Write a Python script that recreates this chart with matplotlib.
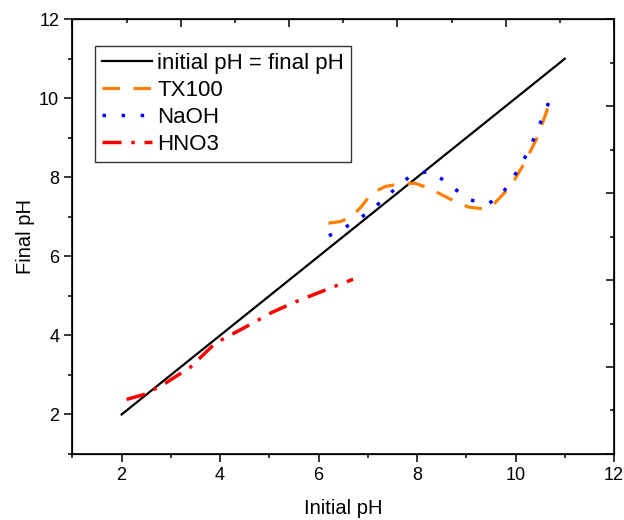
import matplotlib
matplotlib.use("Agg")
import matplotlib.pyplot as plt
from matplotlib.ticker import MultipleLocator

plt.rcParams['font.family'] = ['Liberation Sans', 'DejaVu Sans']

# ========== DATA ==========
ref_x = [2, 11]
ref_y = [2, 11]

tx100_x = [6.2, 6.44, 6.67, 6.87, 7.08, 7.36, 7.69, 7.96, 8.23, 8.5, 8.77, 9.04,
           9.34, 9.58, 9.8, 9.98, 10.18, 10.45, 10.72]
tx100_y = [6.84, 6.88, 7.0, 7.26, 7.6, 7.77, 7.84, 7.85, 7.73, 7.56, 7.39, 7.25,
           7.2, 7.35, 7.64, 7.94, 8.36, 9.03, 9.98]

naoh_x = [6.21, 6.55, 6.85, 7.12, 7.37, 7.62, 7.89, 8.23, 8.5, 8.77, 9.07, 9.44,
          9.68, 9.88, 10.1, 10.28, 10.42, 10.55, 10.69]
naoh_y = [6.52, 6.74, 6.97, 7.22, 7.5, 7.78, 8.06, 8.15, 7.96, 7.7, 7.43, 7.33,
          7.51, 7.85, 8.29, 8.71, 9.12, 9.52, 9.94]

hno3_x = [2.1, 2.5, 2.9, 3.4, 3.9, 4.5, 5.05, 5.55, 6.0, 6.45, 6.7]
hno3_y = [2.38, 2.52, 2.8, 3.2, 3.8, 4.2, 4.58, 4.86, 5.08, 5.3, 5.42]

# ========== PLOT ==========
fig = plt.figure(figsize=(6.24, 5.2), dpi=100)
ax = fig.add_axes([0.116, 0.127, 0.868, 0.836])

ax.plot(ref_x, ref_y, color='black', lw=1.6, label='initial pH = final pH')
ax.plot(tx100_x, tx100_y, color='#FF8000', lw=2.3, dashes=(5.5, 4.2),
        label='TX100')
ax.plot(naoh_x, naoh_y, color='#0000FF', lw=2.5, dashes=(1.0, 4.5),
        label='NaOH')
ax.plot(hno3_x, hno3_y, color='#FF0000', lw=2.5, dashes=(5.5, 2.8, 1.0, 2.8),
        label='HNO3')

ax.set_xlim(1, 12)
ax.set_ylim(1, 12)
ax.set_xticks([2, 4, 6, 8, 10, 12])
ax.set_yticks([2, 4, 6, 8, 10, 12])
ax.xaxis.set_minor_locator(MultipleLocator(1))
ax.yaxis.set_minor_locator(MultipleLocator(1))
ax.tick_params(which='major', direction='out', length=6, width=1.1,
               labelsize=13, top=False, right=False)
ax.tick_params(which='minor', direction='out', length=3, width=1.1,
               top=False, right=False)
ax.set_xlabel('Initial pH', fontsize=14.5, labelpad=11)
ax.set_ylabel('Final pH', fontsize=14.5, labelpad=3)
for s in ax.spines.values():
    s.set_linewidth(1.2)

# top / right axes with their own inward ticks, no labels
top = ax.twiny()
top.set_xlim(0, 10)
top.set_xticks([0, 2, 4, 6, 8, 10])
top.xaxis.set_minor_locator(MultipleLocator(1))
top.tick_params(axis='x', which='major', direction='in', length=6, width=1.1,
                labeltop=False)
top.tick_params(axis='x', which='minor', direction='in', length=3, width=1.1)

right = ax.twinx()
right.set_ylim(0, 10)
right.set_yticks([0, 2, 4, 6, 8, 10])
right.yaxis.set_minor_locator(MultipleLocator(1))
right.tick_params(axis='y', which='major', direction='in', length=6, width=1.1,
                  labelright=False)
right.tick_params(axis='y', which='minor', direction='in', length=3, width=1.1)

leg = ax.legend(loc='upper left', bbox_to_anchor=(0.0415, 0.938), fontsize=16,
                frameon=True, fancybox=False, edgecolor='black',
                handlelength=2.25, handletextpad=0.25, borderpad=0.3,
                labelspacing=0.27, borderaxespad=0)
leg.get_frame().set_linewidth(1.0)

fig.savefig('out.png', dpi=100)
